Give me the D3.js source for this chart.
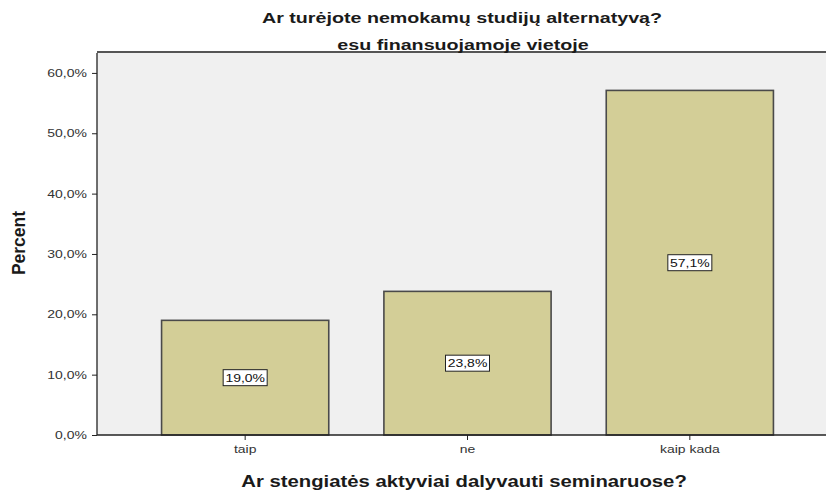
<!DOCTYPE html>
<html>
<head>
<meta charset="utf-8">
<script src="https://cdn.jsdelivr.net/npm/d3@7"></script>
<style>
  body { margin: 0; background: #fff; }
  text { font-family: "Liberation Sans", Arial, sans-serif; }
</style>
</head>
<body>
<div id="output"></div>
<script>
var categories = ["taip", "ne", "kaip kada"];
var percents = [19.0, 23.8, 57.1];
var yTicks = [0, 10, 20, 30, 40, 50, 60];

var w = 827, h = 494;
var plot = {left: 97, right: 826, top: 53, bottom: 435};
var stretch = 1.27; // the source text is drawn wide

var svg = d3.select("#output").append("svg")
    .attr("width", w)
    .attr("height", h);

var x = d3.scaleBand()
    .domain(categories)
    .range([134, 801])
    .paddingInner(0.248)
    .paddingOuter(0.124);

var y = d3.scaleLinear()
    .domain([0, 63.3])
    .range([plot.bottom, plot.top]);

var fmt = function (d) { return d.toFixed(1).replace(".", ",") + "%"; };

// plot background
svg.append("rect")
    .attr("x", plot.left)
    .attr("y", plot.top)
    .attr("width", plot.right - plot.left)
    .attr("height", plot.bottom - plot.top)
    .attr("fill", "#f0f0f0");

svg.append("line")
    .attr("x1", plot.left).attr("x2", plot.right)
    .attr("y1", plot.top - 1).attr("y2", plot.top - 1)
    .attr("stroke", "#555")
    .attr("stroke-width", 2);

// bars
svg.selectAll(".bar")
    .data(percents)
    .enter()
    .append("rect")
    .attr("class", "bar")
    .attr("x", function (d, i) { return x(categories[i]); })
    .attr("y", function (d) { return y(d); })
    .attr("width", x.bandwidth())
    .attr("height", function (d) { return y(0) - y(d); })
    .attr("fill", "#d3ce97")
    .attr("stroke", "#4a4a4a")
    .attr("stroke-width", 1.6);

// value labels
var lab = svg.selectAll(".lab")
    .data(percents)
    .enter()
    .append("g")
    .attr("class", "lab")
    .attr("transform", function (d, i) {
        return "translate(" + (x(categories[i]) + x.bandwidth() / 2) + "," + y(d / 2) + ")";
    });

lab.append("rect")
    .attr("x", -22).attr("y", -8)
    .attr("width", 44).attr("height", 16)
    .attr("fill", "#fff")
    .attr("stroke", "#222")
    .attr("stroke-width", 1);

lab.append("text")
    .attr("text-anchor", "middle")
    .attr("dy", "0.36em")
    .attr("font-size", 11)
    .attr("fill", "#111")
    .attr("transform", "scale(" + stretch + ",1)")
    .text(fmt);

// axes
var yAxis = d3.axisLeft(y)
    .tickValues(yTicks)
    .tickSize(5)
    .tickPadding(3)
    .tickFormat(fmt);

var gy = svg.append("g")
    .attr("transform", "translate(" + plot.left + ",0)")
    .call(yAxis);
gy.select(".domain").attr("d", "M0," + plot.top + "V" + plot.bottom).attr("stroke", "#222").attr("stroke-width", 1.3);
gy.selectAll(".tick line").attr("stroke", "#222");
gy.selectAll(".tick text").attr("font-size", 11).attr("fill", "#333")
    .attr("font-family", "Liberation Sans, Arial, sans-serif")
    .attr("transform", "scale(" + stretch + ",1)");

var xAxis = d3.axisBottom(x).tickSize(5).tickPadding(5).tickSizeOuter(0);
var gx = svg.append("g")
    .attr("transform", "translate(0," + plot.bottom + ")")
    .call(xAxis);
gx.select(".domain").attr("d", "M" + plot.left + ",0H" + plot.right).attr("stroke", "#222").attr("stroke-width", 1.3);
gx.selectAll(".tick line").attr("stroke", "#222");
gx.selectAll(".tick text").attr("font-size", 11).attr("fill", "#333")
    .attr("font-family", "Liberation Sans, Arial, sans-serif")
    .attr("transform", "scale(" + stretch + ",1)");

// titles
function wideText(cx, cy, size, str) {
    svg.append("text")
        .attr("transform", "translate(" + cx + "," + cy + ") scale(" + stretch + ",1)")
        .attr("text-anchor", "middle")
        .attr("font-size", size)
        .attr("font-weight", "bold")
        .attr("fill", "#1a1a1a")
        .text(str);
}

wideText(462, 23, 15.5, "Ar turėjote nemokamų studijų alternatyvą?");
wideText(463, 50, 15.5, "esu finansuojamoje vietoje");
wideText(464, 487, 16, "Ar stengiatės aktyviai dalyvauti seminaruose?");

svg.append("text")
    .attr("transform", "translate(25,243) rotate(-90)")
    .attr("text-anchor", "middle")
    .attr("font-size", 17.5)
    .attr("font-weight", "bold")
    .attr("fill", "#1a1a1a")
    .text("Percent");
</script>
</body>
</html>
